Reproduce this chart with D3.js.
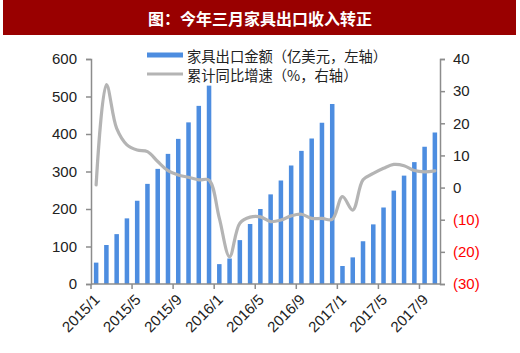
<!DOCTYPE html>
<html><head><meta charset="utf-8">
<script src="https://cdn.jsdelivr.net/npm/d3@7"></script>
<style>
html,body{margin:0;padding:0;background:#fff;}
svg{display:block;}
</style></head>
<body>
<svg id="c" width="520" height="353"></svg>
<script>
const months = ["2015/1","2015/2","2015/3","2015/4","2015/5","2015/6","2015/7","2015/8","2015/9","2015/10","2015/11","2015/12",
"2016/1","2016/2","2016/3","2016/4","2016/5","2016/6","2016/7","2016/8","2016/9","2016/10","2016/11","2016/12",
"2017/1","2017/2","2017/3","2017/4","2017/5","2017/6","2017/7","2017/8","2017/9","2017/10"];
const exportValue = [57,104,133,175,222,267,307,347,387,431,475,529,
53,68,117,160,200,239,276,316,355,388,430,480,
48,71,114,159,204,249,289,325,366,404];
const growthRate = [0.8,32,18.4,13.3,11.7,11.2,8.1,5.3,3.9,3.2,2.4,2.3,
-9.5,-21.5,-11.1,-9.2,-9.1,-10.6,-10.1,-8.8,-8.3,-9.6,-9.6,-9.9,
-2.8,-7.0,2.4,4.4,6.0,7.2,6.8,5.3,4.9,5.2];
const xTickLabels = ["2015/1","2015/5","2015/9","2016/1","2016/5","2016/9","2017/1","2017/5","2017/9"];
const leftTicks = [0,100,200,300,400,500,600];
const rightTicks = [-30,-20,-10,0,10,20,30,40];
const titleText = "图：今年三月家具出口收入转正";
const legendLabels = ["家具出口金额（亿美元，左轴）","累计同比增速（%，右轴）"];

const svg = d3.select("#c");
const L = 91, R = 440, T = 59, B = 284;
const font = "'Liberation Sans', Arial, sans-serif";
const cjk = "'Noto Sans CJK SC', sans-serif";
const barColor = "#4d8de0", lineColor = "#b4b4b4", axisColor = "#8c8c8c";

// title bar
svg.append("rect").attr("x",3).attr("y",0).attr("width",513).attr("height",35).attr("fill","#990000");
svg.append("text").attr("x",260).attr("y",18).attr("text-anchor","middle").attr("dominant-baseline","central")
  .attr("fill","#fff").attr("font-family",cjk).attr("font-weight","bold").attr("font-size",16).text(titleText);

const x = d3.scaleBand().domain(months).range([L,R]).paddingInner(0.56).paddingOuter(0.28);
const yL = d3.scaleLinear().domain([0,600]).range([B,T]);
const yR = d3.scaleLinear().domain([-30,40]).range([B,T]);
const step = x.step();
const cx = d => x(d) + x.bandwidth()/2;

// bars
svg.append("g").selectAll("rect").data(months).join("rect")
  .attr("x", d => x(d)).attr("width", x.bandwidth())
  .attr("y", (d,i) => yL(exportValue[i])).attr("height", (d,i) => yL(0)-yL(exportValue[i]))
  .attr("fill", barColor);

// line
const line = d3.line().x((d,i)=>cx(months[i])).y(d=>yR(d)).curve(d3.curveCatmullRom.alpha(0.5));
svg.append("path").datum(growthRate).attr("d",line).attr("fill","none")
  .attr("stroke",lineColor).attr("stroke-width",3.2).attr("stroke-linejoin","round").attr("stroke-linecap","round");

// left axis
const ax = svg.append("g").attr("transform",`translate(${L},0)`)
  .call(d3.axisLeft(yL).tickValues(leftTicks).tickSize(5).tickPadding(9));
ax.select(".domain").attr("stroke",axisColor).attr("stroke-width",1.5);
ax.selectAll(".tick line").attr("stroke",axisColor).attr("stroke-width",1.5);
ax.selectAll("text").attr("font-family",font).attr("font-size",15).attr("fill","#222");

// right axis
const ar = svg.append("g").attr("transform",`translate(${R},0)`)
  .call(d3.axisRight(yR).tickValues(rightTicks).tickSize(5).tickPadding(8)
    .tickFormat(v => v < 0 ? `(${-v})` : `${v}`));
ar.select(".domain").attr("stroke",axisColor).attr("stroke-width",1.5);
ar.selectAll(".tick line").attr("stroke",axisColor).attr("stroke-width",1.5);
ar.selectAll("text").attr("font-family",font).attr("font-size",15).attr("fill", d => d < 0 ? "#ff0000" : "#222");

// x axis
svg.append("line").attr("x1",L).attr("x2",R).attr("y1",B).attr("y2",B).attr("stroke",axisColor).attr("stroke-width",1.5);
const xt = svg.append("g").selectAll("g").data(xTickLabels).join("g")
  .attr("transform", d => `translate(${cx(d)-step/2},${B})`);
xt.append("line").attr("y1",0).attr("y2",5).attr("stroke",axisColor).attr("stroke-width",1.5);
xt.append("text").attr("transform","translate(6,13) rotate(-45)").attr("text-anchor","end")
  .attr("dy","0.35em").attr("font-family",font).attr("font-size",15).attr("fill","#222").text(d=>d);

// legend
const lg = svg.append("g");
lg.append("rect").attr("x",147).attr("y",52.5).attr("width",36).attr("height",5).attr("fill",barColor);
lg.append("text").attr("x",187).attr("y",55).attr("dominant-baseline","central").attr("font-family",cjk)
  .attr("font-size",14.3).attr("fill","#222").text(legendLabels[0]);
lg.append("line").attr("x1",147).attr("x2",183).attr("y1",74).attr("y2",74).attr("stroke",lineColor).attr("stroke-width",3);
lg.append("text").attr("x",187).attr("y",74).attr("dominant-baseline","central").attr("font-family",cjk)
  .attr("font-size",14.3).attr("fill","#222").text(legendLabels[1]);
</script>
</body></html>
